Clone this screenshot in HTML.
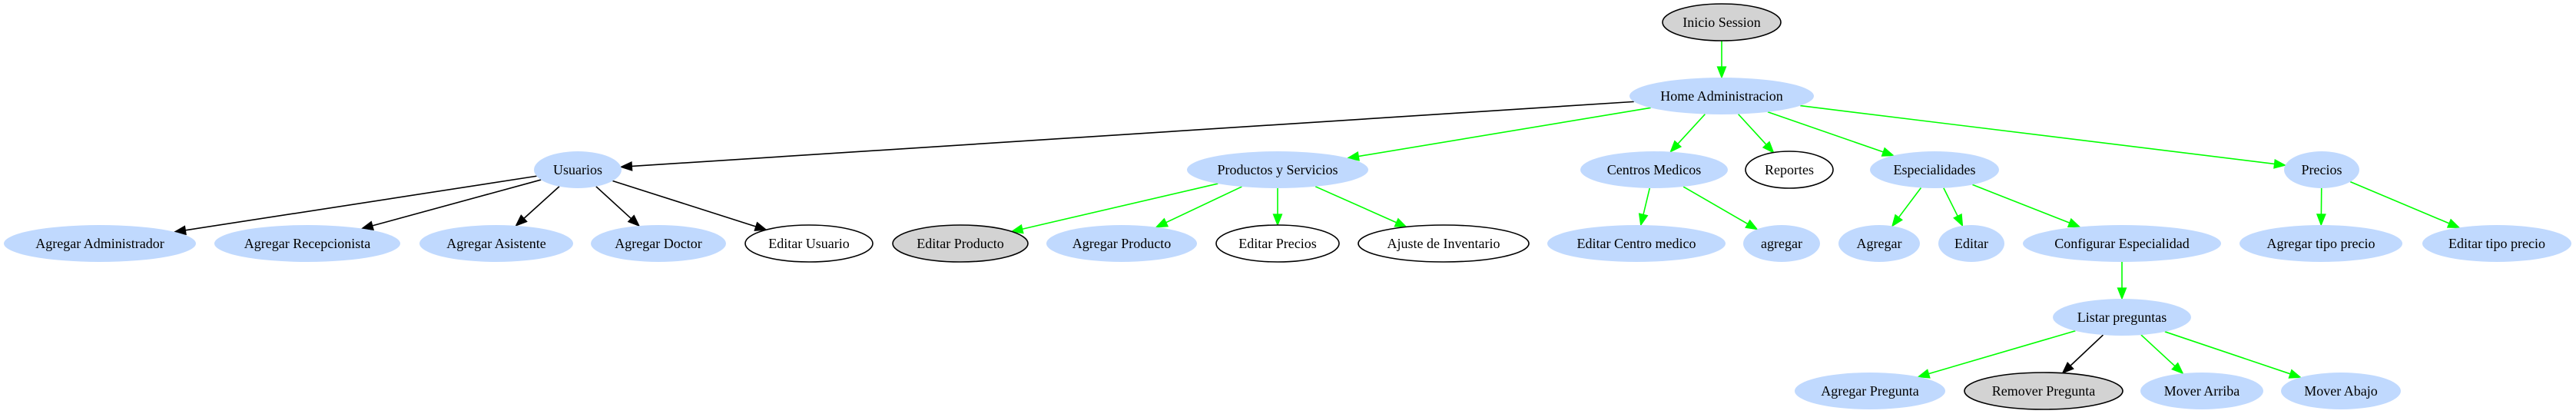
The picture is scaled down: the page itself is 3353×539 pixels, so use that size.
<!DOCTYPE html>
<html><head><meta charset="utf-8"><style>
html,body{margin:0;padding:0;background:#fff;}
svg{display:block;}
text{font-family:"Liberation Serif",serif;font-size:18px;text-anchor:middle;dominant-baseline:central;fill:#000;}
</style></head><body>
<svg id="g" width="3353" height="539" viewBox="0 0 3353 539" xmlns="http://www.w3.org/2000/svg"></svg>
<script>
var B="#c0d9fe",G="#d3d3d3",W="#ffffff";
var N={
ini:[2241,29,77,24,G,1,"Inicio Session"],
home:[2241,125,120,24,B,0,"Home Administracion"],
usu:[752,221,57,24,B,0,"Usuarios"],
pys:[1663,221,118,24,B,0,"Productos y Servicios"],
cm:[2153,221,96,24,B,0,"Centros Medicos"],
rep:[2329,221,57,24,W,1,"Reportes"],
esp:[2518,221,84,24,B,0,"Especialidades"],
pre:[3022,221,49,24,B,0,"Precios"],
aadm:[130,317,125,24,B,0,"Agregar Administrador"],
arec:[400,317,121,24,B,0,"Agregar Recepcionista"],
aasi:[646,317,100,24,B,0,"Agregar Asistente"],
adoc:[857,317,88,24,B,0,"Agregar Doctor"],
eusu:[1053,317,83,24,W,1,"Editar Usuario"],
epro:[1250,317,88,24,G,1,"Editar Producto"],
apro:[1460,317,98,24,B,0,"Agregar Producto"],
epre:[1663,317,80,24,W,1,"Editar Precios"],
ainv:[1879,317,111,24,W,1,"Ajuste de Inventario"],
ecm:[2130,317,116,24,B,0,"Editar Centro medico"],
agr:[2319,317,50,24,B,0,"agregar"],
eagr:[2446,317,53,24,B,0,"Agregar"],
eedi:[2566,317,43,24,B,0,"Editar"],
conf:[2762,317,129,24,B,0,"Configurar Especialidad"],
atp:[3021,317,106,24,B,0,"Agregar tipo precio"],
etp:[3250,317,97,24,B,0,"Editar tipo precio"],
lis:[2762,413,90,24,B,0,"Listar preguntas"],
apr:[2434,509,98,24,B,0,"Agregar Pregunta"],
rpr:[2660,509,103,24,G,1,"Remover Pregunta"],
mar:[2866,509,80,24,B,0,"Mover Arriba"],
mab:[3047,509,78,24,B,0,"Mover Abajo"]
};
var K="#000",Gr="#00ff00";
var E=[["ini","home",Gr],["home","usu",K],["home","pys",Gr],["home","cm",Gr],["home","rep",Gr],["home","esp",Gr],["home","pre",Gr],
["usu","aadm",K],["usu","arec",K],["usu","aasi",K],["usu","adoc",K],["usu","eusu",K],
["pys","epro",Gr],["pys","apro",Gr],["pys","epre",Gr],["pys","ainv",Gr],
["cm","ecm",Gr],["cm","agr",Gr],["esp","eagr",Gr],["esp","eedi",Gr],["esp","conf",Gr],
["pre","atp",Gr],["pre","etp",Gr],["conf","lis",Gr],
["lis","apr",Gr],["lis","rpr",K],["lis","mar",Gr],["lis","mab",Gr]];
var s="";
function bp(n,dx,dy){var a=n[2],b=n[3];var t=1/Math.sqrt(dx*dx/(a*a)+dy*dy/(b*b));return [n[0]+dx*t,n[1]+dy*t];}
E.forEach(function(e){var A=N[e[0]],C=N[e[1]];var dx=C[0]-A[0],dy=C[1]-A[1];var L=Math.hypot(dx,dy);var ux=dx/L,uy=dy/L;
var p=bp(A,dx,dy),q=bp(C,-dx,-dy);var al=14,aw=5.5;var bx=q[0]-ux*al,by=q[1]-uy*al;
s+='<line x1="'+p[0]+'" y1="'+p[1]+'" x2="'+bx+'" y2="'+by+'" stroke="'+e[2]+'" stroke-width="1.6"/>';
s+='<polygon points="'+q[0]+','+q[1]+' '+(bx-uy*aw)+','+(by+ux*aw)+' '+(bx+uy*aw)+','+(by-ux*aw)+'" fill="'+e[2]+'" stroke="'+e[2]+'" stroke-width="1.3"/>';});
for(var k in N){var n=N[k];s+='<ellipse cx="'+n[0]+'" cy="'+n[1]+'" rx="'+n[2]+'" ry="'+n[3]+'" fill="'+n[4]+'"'+(n[5]?' stroke="#000" stroke-width="1.6"':'')+'/>';
s+='<text x="'+n[0]+'" y="'+n[1]+'">'+n[6]+'</text>';}
document.getElementById("g").innerHTML=s;
</script>
</body></html>
